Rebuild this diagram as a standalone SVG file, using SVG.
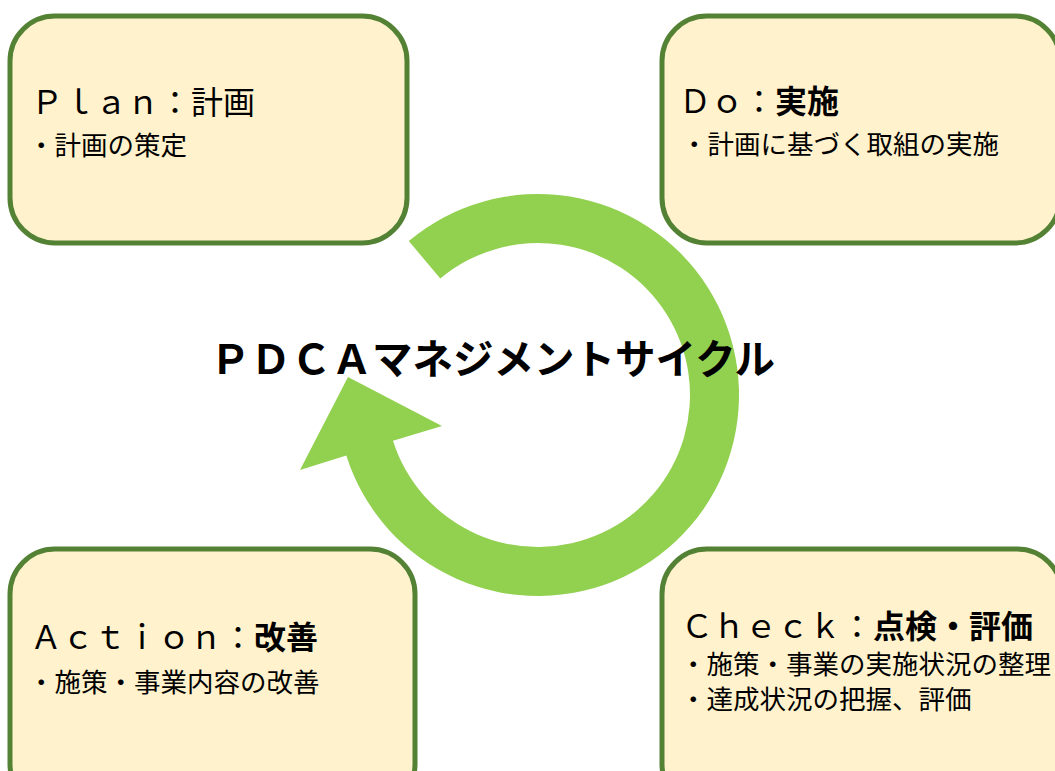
<svg xmlns="http://www.w3.org/2000/svg" width="1055" height="771" viewBox="0 0 1055 771">
<style>
.box{fill:#fff2cc;stroke:#548235;stroke-width:5}
.t{font-family:"Noto Sans CJK JP","Noto Sans",sans-serif;fill:#000}
.h{font-size:32px}
.s{font-size:26.5px}
.b{font-weight:bold}
.arrow{fill:#92d050}
</style>
<rect width="1055" height="771" fill="#fff"/>
<g id="connectors">
<path class="arrow" d="M 408.8 241.0 A 201 201 0 1 1 346.3 455.4 L 300 470 L 348 377 L 442 426 L 393 440.7 A 152 152 0 1 0 440.3 278.6 Z"/>
</g>
<g id="plan">
<rect class="box" x="10" y="16" width="397" height="227" rx="45"/>
<text class="t h" x="31" y="114">Ｐｌａｎ：計画</text>
<text class="t s" x="28" y="155">・計画の策定</text>
</g>
<g id="do">
<rect class="box" x="662" y="16" width="398" height="227" rx="45"/>
<text class="t h" x="679" y="113">Ｄｏ：<tspan class="b">実施</tspan></text>
<text class="t s" x="681" y="154">・計画に基づく取組の実施</text>
</g>
<g id="check">
<rect class="box" x="662" y="549" width="400" height="260" rx="45"/>
<text class="t h" x="681" y="638">Ｃｈｅｃｋ：<tspan class="b">点検・評価</tspan></text>
<text class="t s" x="680" y="674">・施策・事業の実施状況の整理</text>
<text class="t s" x="680" y="709">・達成状況の把握、評価</text>
</g>
<g id="action">
<rect class="box" x="10" y="549" width="405" height="260" rx="45"/>
<text class="t h" x="30" y="649">Ａｃｔｉｏｎ：<tspan class="b">改善</tspan></text>
<text class="t s" x="28" y="692">・施策・事業内容の改善</text>
</g>
<g id="title">
<text class="t b" style="font-size:40.5px" x="210" y="374">ＰＤＣＡマネジメントサイクル</text>
</g>
</svg>
